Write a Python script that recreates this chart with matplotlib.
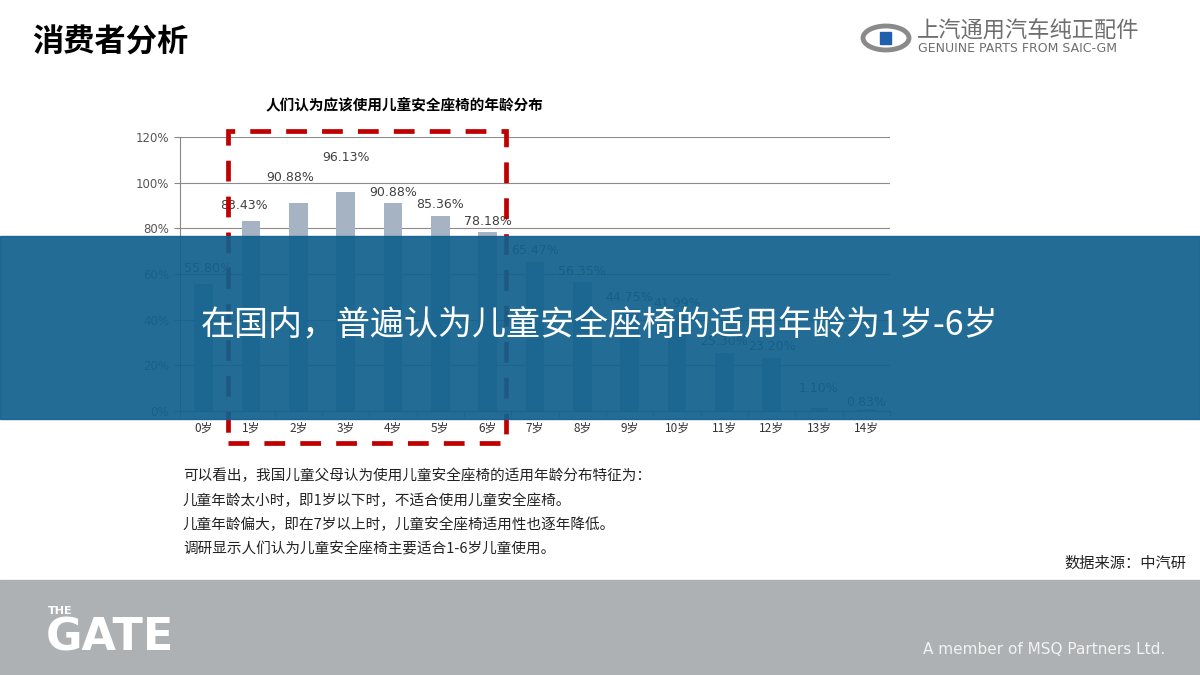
import matplotlib.pyplot as plt
from matplotlib.patches import Rectangle, Ellipse

plt.rcParams['font.family'] = ['Noto Sans CJK SC', 'DejaVu Sans']

### DATA
ages = ['0岁', '1岁', '2岁', '3岁', '4岁', '5岁', '6岁', '7岁',
        '8岁', '9岁', '10岁', '11岁', '12岁', '13岁', '14岁']
share = [55.80, 83.43, 90.88, 96.13, 90.88, 85.36, 78.18, 65.47,
         56.35, 44.75, 41.99, 25.30, 23.20, 1.10, 0.83]
yticks = [0, 20, 40, 60, 80, 100, 120]
# label offsets (points) - labels were hand moved in the original
label_dx = [3, -5, -6, 0, 0, 0, 0, 0, 0, 0, 0, 0, 0, 0, 0]
label_dy = [6.5, 6, 14, 20, 3.5, 3.5, 3.5, 3, 3, 3.5, 3.5, 3.5, 3.5, 10, 0]

notes = ['可以看出，我国儿童父母认为使用儿童安全座椅的适用年龄分布特征为：',
         '儿童年龄太小时，即1岁以下时，不适合使用儿童安全座椅。',
         '儿童年龄偏大，即在7岁以上时，儿童安全座椅适用性也逐年降低。',
         '调研显示人们认为儿童安全座椅主要适合1-6岁儿童使用。']

W, H = 1200, 675
fig = plt.figure(figsize=(12, 6.75), dpi=100)

def fx(x):
    return x / W

def fy(y):
    return 1 - y / H

# header
fig.text(fx(32), fy(43), '消费者分析', fontsize=22.5, fontweight='bold',
         color='black', va='center', ha='left')

# logo top right
fig.patches.append(Ellipse((fx(886), fy(38)), fx(46), 24 / H, fill=False,
                           edgecolor='#8a8a8a', lw=3.5, transform=fig.transFigure))
fig.patches.append(Rectangle((fx(880), fy(44)), fx(11), 12 / H, color='#1f5fae',
                             transform=fig.transFigure))
fig.text(fx(917), fy(31), '上汽通用汽车纯正配件', fontsize=16, color='#6e6e6e',
         va='center', ha='left')
fig.text(fx(918), fy(49), 'GENUINE PARTS FROM SAIC-GM', fontsize=9, color='#6e6e6e',
         va='center', ha='left', family='DejaVu Sans')

# chart
ax = fig.add_axes([fx(180), fy(411), fx(890 - 180), (411 - 137) / H])
x = range(len(ages))
ax.bar(x, share, width=0.4, color='#a5b3c3', zorder=3)
for i, v in enumerate(share):
    ax.annotate('%.2f%%' % v, (i, v), xytext=(label_dx[i], label_dy[i]),
                textcoords='offset points', ha='center', va='bottom',
                fontsize=9, color='#404040', family='DejaVu Sans')
ax.set_xlim(-0.5, len(ages) - 0.5)
ax.set_ylim(0, 120)
ax.set_yticks(yticks)
ax.set_yticklabels(['%d%%' % t for t in yticks], fontsize=8.5, color='#555555',
                   family='DejaVu Sans')
ax.set_xticks(list(x))
ax.set_xticklabels(ages, fontsize=8.5, color='#333333')
ax.set_xticks([i + 0.5 for i in range(-1, len(ages))], minor=True)
ax.tick_params(axis='x', which='major', length=0, pad=8)
ax.tick_params(axis='x', which='minor', length=4, color='#888888')
ax.tick_params(axis='y', length=4, color='#888888', pad=4)
ax.yaxis.grid(True, color='#8c8c8c', lw=0.8, zorder=0)
ax.set_axisbelow(True)
for s in ['top', 'right']:
    ax.spines[s].set_visible(False)
ax.spines['left'].set_color('#888888')
ax.spines['bottom'].set_color('#888888')

fig.text(fx(405), fy(104), '人们认为应该使用儿童安全座椅的年龄分布', fontsize=10.5,
         fontweight='bold', color='black', ha='center', va='center')

# red dashed box
fig.patches.append(Rectangle((fx(228), fy(443)), fx(506 - 228), (443 - 131) / H,
                             fill=False, edgecolor='#c00000', lw=3.4,
                             linestyle=(0, (4.4, 3.2)), transform=fig.transFigure,
                             zorder=5))

# overlay band
fig.patches.append(Rectangle((0, fy(419)), 1, (419 - 236) / H, color='#12618e',
                             alpha=0.93, transform=fig.transFigure, zorder=10))
fig.text(0.5, fy(326), '在国内，普遍认为儿童安全座椅的适用年龄为1岁-6岁', fontsize=24.5,
         color='white', ha='center', va='center', zorder=11)

# notes
for k, line in enumerate(notes):
    fig.text(fx(183), fy(476 + k * 24.5), line, fontsize=10.5, color='#222222',
             ha='left', va='center')

fig.text(fx(1186), fy(563), '数据来源：中汽研', fontsize=11, color='#222222',
         ha='right', va='center')

# footer
fig.patches.append(Rectangle((0, 0), 1, (675 - 580) / H, color='#aeb1b4',
                             transform=fig.transFigure, zorder=1))
fig.text(fx(48), fy(611), 'THE', fontsize=8, fontweight='bold', color='white',
         ha='left', va='center', family='DejaVu Sans', zorder=2)
fig.text(fx(46), fy(638), 'GATE', fontsize=32, fontweight='bold', color='white',
         ha='left', va='center', family='DejaVu Sans', zorder=2)
fig.text(fx(1165), fy(650), 'A member of MSQ Partners Ltd.', fontsize=11,
         color='#f2f2f2', ha='right', va='center', family='DejaVu Sans', zorder=2)

fig.savefig('out.png', dpi=100)
